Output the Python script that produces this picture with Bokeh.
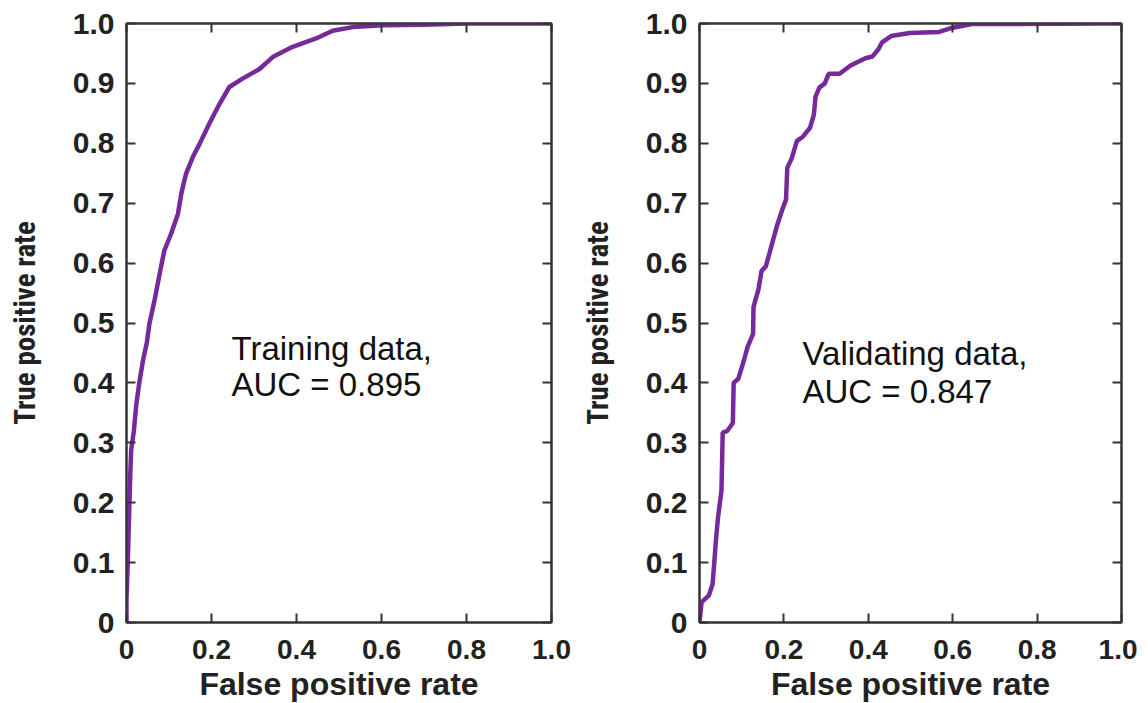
from bokeh.plotting import figure
from bokeh.layouts import row
from bokeh.models import FixedTicker, LinearAxis, CustomJSTickFormatter, Range1d
from bokeh.core.properties import value
from bokeh.embed import file_html
from bokeh.resources import INLINE

# ---------------- data ----------------
train_fpr = [0.0, 0.0, 0.003, 0.006, 0.009, 0.011, 0.017, 0.023, 0.030, 0.039, 0.048,
             0.054, 0.066, 0.078, 0.089, 0.105, 0.121, 0.129, 0.140, 0.156, 0.172,
             0.195, 0.219, 0.242, 0.273, 0.313, 0.344, 0.391, 0.446, 0.485, 0.532,
             0.603, 0.700, 0.800, 1.0]
train_tpr = [0.0, 0.04, 0.10, 0.176, 0.25, 0.288, 0.318, 0.363, 0.40, 0.438, 0.468,
             0.499, 0.538, 0.582, 0.621, 0.649, 0.682, 0.716, 0.749, 0.777, 0.799,
             0.833, 0.866, 0.894, 0.908, 0.924, 0.944, 0.961, 0.975, 0.988, 0.994,
             0.997, 0.998, 1.0, 1.0]

valid_fpr = [0.0, 0.005, 0.022, 0.031, 0.035, 0.039, 0.044, 0.052, 0.055, 0.066,
             0.079, 0.081, 0.092, 0.105, 0.114, 0.127, 0.128, 0.140, 0.147, 0.157,
             0.166, 0.183, 0.197, 0.205, 0.208, 0.218, 0.231, 0.245, 0.262, 0.271,
             0.275, 0.284, 0.297, 0.306, 0.332, 0.358, 0.393, 0.410, 0.424, 0.432,
             0.454, 0.498, 0.568, 0.594, 0.646, 0.950, 1.0]
valid_tpr = [0.0, 0.034, 0.045, 0.064, 0.100, 0.138, 0.176, 0.220, 0.317, 0.320,
             0.333, 0.400, 0.407, 0.437, 0.460, 0.482, 0.527, 0.557, 0.587, 0.594,
             0.617, 0.661, 0.691, 0.706, 0.759, 0.774, 0.804, 0.811, 0.826, 0.848,
             0.878, 0.893, 0.900, 0.916, 0.916, 0.930, 0.942, 0.945, 0.957, 0.968,
             0.979, 0.984, 0.986, 0.992, 0.999, 1.0, 1.0]

x_ticks = [0, 0.2, 0.4, 0.6, 0.8, 1.0]
x_labels = ["0", "0.2", "0.4", "0.6", "0.8", "1.0"]
y_ticks = [0, 0.1, 0.2, 0.3, 0.4, 0.5, 0.6, 0.7, 0.8, 0.9, 1.0]
y_labels = ["0", "0.1", "0.2", "0.3", "0.4", "0.5", "0.6", "0.7", "0.8", "0.9", "1.0"]

panels = [
    dict(fpr=train_fpr, tpr=train_tpr, lines=["Training data,", "AUC = 0.895"],
         tx=0.247, ty=[0.457, 0.397], fw=425, bl=126, br=22),
    dict(fpr=valid_fpr, tpr=valid_tpr, lines=["Validating data,", "AUC = 0.847"],
         tx=0.244, ty=[0.449, 0.385], fw=422, bl=126, br=16),
]

LINE_COLOR = "#76299A"
AXIS_COLOR = "#333333"
TICK_FONT = "Liberation Sans"
YLAB_FONT = "Roboto Condensed, Roboto"


def make_panel(cfg):
    p = figure(frame_width=cfg["fw"], frame_height=599, output_backend="svg",
               toolbar_location=None, x_range=Range1d(0, 1), y_range=Range1d(0, 1),
               min_border_left=cfg["bl"], min_border_right=cfg["br"],
               min_border_top=23, min_border_bottom=81)
    p.grid.visible = False
    p.outline_line_color = AXIS_COLOR
    p.outline_line_width = 2
    p.background_fill_color = "white"
    p.border_fill_color = "white"

    p.line(cfg["fpr"], cfg["tpr"], line_color=LINE_COLOR, line_width=4.5)

    p.text(x=[cfg["tx"], cfg["tx"]], y=cfg["ty"], text=cfg["lines"],
           text_font=value("Liberation Sans"), text_font_size="33px",
           text_color="#111111", text_align="left", text_baseline="middle")

    xa = p.xaxis[0]
    xa.ticker = FixedTicker(ticks=x_ticks)
    xa.major_label_overrides = {t: l for t, l in zip(x_ticks, x_labels)}
    xa.axis_label = "False positive rate"
    xa.axis_label_text_font = "Liberation Sans"
    xa.axis_label_text_font_style = "bold"
    xa.axis_label_text_font_size = "32px"
    xa.axis_label_text_color = "#222222"
    xa.axis_label_text_line_height = 1.0
    xa.axis_label_standoff = 4
    xa.major_label_text_font = TICK_FONT
    xa.major_label_text_font_style = "bold"
    xa.major_label_text_font_size = "28px"
    xa.major_label_text_line_height = 1.0
    xa.major_label_text_color = "#222222"
    xa.major_label_standoff = 17

    ya = p.yaxis[0]
    ya.ticker = FixedTicker(ticks=y_ticks)
    ya.major_label_overrides = {t: l for t, l in zip(y_ticks, y_labels)}
    ya.axis_label = "True positive rate"
    ya.axis_label_text_font = YLAB_FONT
    ya.axis_label_text_font_style = "bold"
    ya.axis_label_text_font_size = "29px"
    ya.axis_label_text_color = "#222222"
    ya.axis_label_standoff = 28
    ya.major_label_text_font = TICK_FONT
    ya.major_label_text_font_style = "bold"
    ya.major_label_text_font_size = "30px"
    ya.major_label_text_color = "#222222"
    ya.major_label_standoff = 12

    for ax in (xa, ya):
        ax.axis_line_color = AXIS_COLOR
        ax.axis_line_width = 2
        ax.major_tick_in = 9
        ax.major_tick_out = 0
        ax.major_tick_line_color = AXIS_COLOR
        ax.major_tick_line_width = 2
        ax.minor_tick_line_color = None

    blank = "return ''"
    top = LinearAxis(ticker=FixedTicker(ticks=x_ticks),
                     formatter=CustomJSTickFormatter(code=blank))
    right = LinearAxis(ticker=FixedTicker(ticks=y_ticks),
                       formatter=CustomJSTickFormatter(code=blank))
    for ax in (top, right):
        ax.axis_line_color = AXIS_COLOR
        ax.axis_line_width = 2
        ax.major_tick_in = 9
        ax.major_tick_out = 0
        ax.major_tick_line_color = AXIS_COLOR
        ax.major_tick_line_width = 2
        ax.minor_tick_line_color = None
        ax.major_label_standoff = 0
        ax.major_label_text_font_size = "1px"
    p.add_layout(top, "above")
    p.add_layout(right, "right")
    return p


figs = [make_panel(c) for c in panels]
layout = row(*figs)

open("out.html", "w").write(file_html(layout, INLINE))
